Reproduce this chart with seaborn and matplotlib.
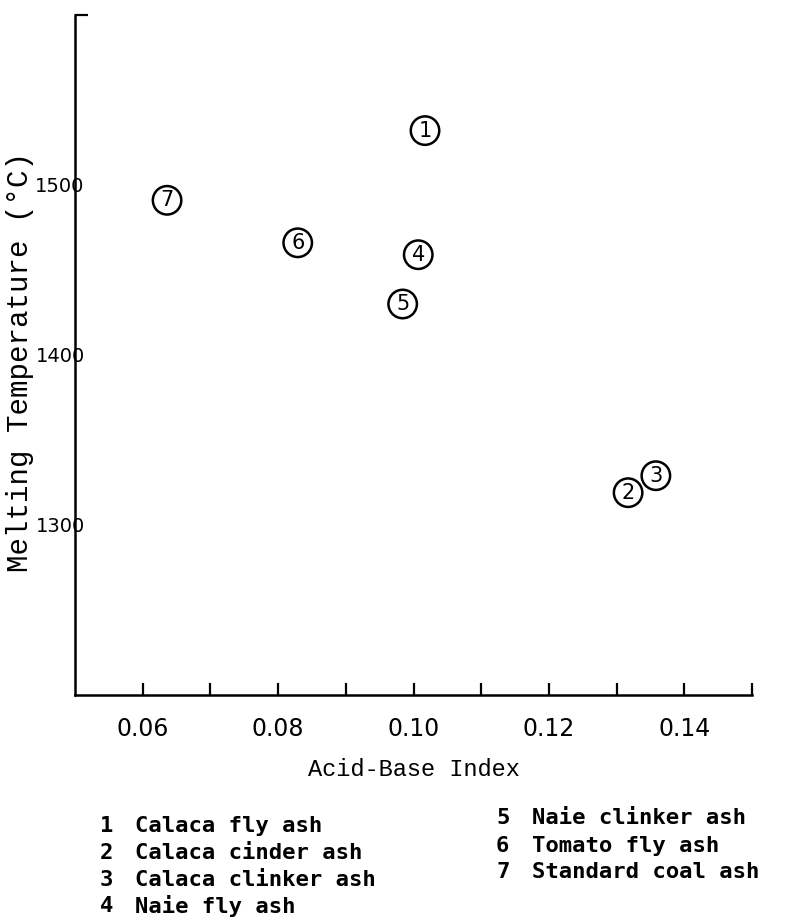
import pandas as pd
import matplotlib
matplotlib.use("Agg")
import matplotlib.pyplot as plt
import seaborn as sns

# data
sample_id = [1, 2, 3, 4, 5, 6, 7]
acid_base = [0.1017, 0.1317, 0.1358, 0.1007, 0.0984, 0.0829, 0.0636]
melt_temp = [1532, 1319, 1329, 1459, 1430, 1466, 1491]
sample_name = ['Calaca fly ash', 'Calaca cinder ash', 'Calaca clinker ash',
               'Naie fly ash', 'Naie clinker ash', 'Tomato fly ash',
               'Standard coal ash']

x_ticks = [0.06, 0.07, 0.08, 0.09, 0.10, 0.11, 0.12, 0.13, 0.14, 0.15]
x_labels = ['0.06', '', '0.08', '', '0.10', '', '0.12', '', '0.14', '']
y_ticks = [1300, 1400, 1500]
y_labels = ['1300', '1400', '1500']

df = pd.DataFrame({'id': sample_id, 'abi': acid_base, 'temp': melt_temp})

sns.set_style("white")
plt.rcParams['font.family'] = ['DejaVu Sans']
plt.rcParams['text.color'] = 'black'
plt.rcParams['axes.labelcolor'] = 'black'

fig = plt.figure(figsize=(8, 9.22), dpi=100)
ax = fig.add_axes([75 / 800, 227 / 922, 677 / 800, 680 / 922])

# hollow circles with the sample number inside
sns.scatterplot(data=df, x='abi', y='temp', ax=ax, s=420, marker='o',
                facecolor='none', edgecolor='black', linewidth=1.8,
                legend=False, zorder=3)
for i, x, y in zip(sample_id, acid_base, melt_temp):
    ax.text(x, y, str(i), ha='center', va='center', fontsize=15,
            color='black', zorder=4)

ax.set_xlim(0.05, 0.15)
ax.set_ylim(1200, 1600)

for side in ['top', 'right']:
    ax.spines[side].set_visible(False)
for side in ['left', 'bottom']:
    ax.spines[side].set_linewidth(1.8)
    ax.spines[side].set_color('black')

ax.set_xticks(x_ticks)
ax.set_xticklabels(x_labels, fontsize=17)
ax.tick_params(axis='x', bottom=True, direction='in', length=9, width=1.6,
               pad=16, colors='black')

ax.set_yticks(y_ticks)
ax.set_yticklabels(y_labels, fontsize=14)
ax.tick_params(axis='y', which='major', left=True, length=0, pad=-7,
               colors='black')
ax.set_yticks([1600], minor=True)
ax.tick_params(axis='y', which='minor', left=True, direction='in', length=9,
               width=1.6, colors='black')

ax.set_xlabel('Acid-Base Index', fontsize=17, family='Liberation Mono',
              labelpad=12)
ax.set_ylabel('Melting Temperature (°C)', fontsize=21, family='Liberation Mono')
ax.yaxis.set_label_coords(-0.06, 0.49)

# legend listing below the plot
leg_font = dict(fontsize=16, family='DejaVu Sans Mono', fontweight='bold',
                va='center', color='black')
col1_rows = [826, 853, 880, 906]
col2_rows = [818, 846, 872]
for k in range(4):
    fig.text(100 / 800, 1 - col1_rows[k] / 922, str(sample_id[k]), **leg_font)
    fig.text(135 / 800, 1 - col1_rows[k] / 922, sample_name[k], **leg_font)
for k in range(3):
    fig.text(496 / 800, 1 - col2_rows[k] / 922, str(sample_id[k + 4]), **leg_font)
    fig.text(532 / 800, 1 - col2_rows[k] / 922, sample_name[k + 4], **leg_font)

fig.savefig('out.png', dpi=100, facecolor='white')
